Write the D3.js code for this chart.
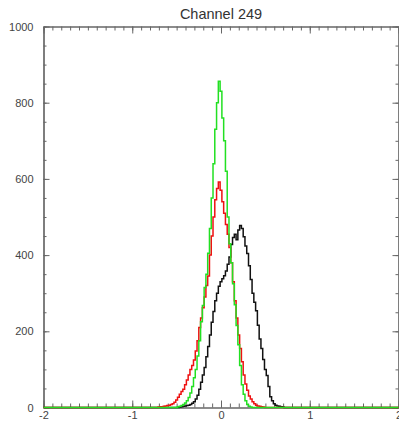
<!DOCTYPE html>
<html>
<head>
<meta charset="utf-8">
<script src="https://cdn.jsdelivr.net/npm/d3@7"></script>
<style>
  html, body { margin: 0; padding: 0; background: #fff; }
  svg { display: block; font-family: "Liberation Sans", Arial, sans-serif; }
</style>
</head>
<body>
<svg id="chart" width="399" height="426"></svg>
<script>
// Histogram of channel 249 residuals: three distributions on a common grid.
const title = "Channel 249";

// Bin centres (bin width 0.02); outside this span every count is zero.
const binCenters = [
  -0.80,-0.78,-0.76,-0.74,-0.72,-0.70,-0.68,-0.66,-0.64,-0.62,
  -0.60,-0.58,-0.56,-0.54,-0.52,-0.50,-0.48,-0.46,-0.44,-0.42,
  -0.40,-0.38,-0.36,-0.34,-0.32,-0.30,-0.28,-0.26,-0.24,-0.22,
  -0.20,-0.18,-0.16,-0.14,-0.12,-0.10,-0.08,-0.06,-0.04,-0.02,
   0.00, 0.02, 0.04, 0.06, 0.08, 0.10, 0.12, 0.14, 0.16, 0.18,
   0.20, 0.22, 0.24, 0.26, 0.28, 0.30, 0.32, 0.34, 0.36, 0.38,
   0.40, 0.42, 0.44, 0.46, 0.48, 0.50, 0.52, 0.54, 0.56, 0.58,
   0.60, 0.62, 0.64, 0.66, 0.68, 0.70, 0.72, 0.74, 0.76, 0.78,
   0.80
];

const blackCounts = [
    0,  0,  0,  0,  0,  0,  0,  0,  0,  0,
    0,  0,  0,  0,  0,  0,  0,  1,  2,  3,
    4,  5,  6,  8, 11, 15, 22, 32, 48, 66,
   85,105,133,160,190,224,252,280,300,318,
  330,338,346,358,376,395,428,446,455,440,
  466,478,470,448,424,404,372,336,300,276,
  254,216,180,155,126,100, 84, 55, 28, 18,
   10,  6,  4,  3,  2,  1,  0,  0,  0,  0,
    0
];

const redCounts = [
    0,  0,  0,  0,  0,  1,  2,  2,  3,  4,
    5,  6,  8, 10, 14, 20, 27, 35, 42, 48,
   60, 72, 85,100,110,125,148,175,210,235,
  262,290,320,345,400,450,500,545,575,592,
  570,540,510,480,455,420,380,330,280,235,
  190,155,120, 85, 62, 45, 30, 22, 15, 10,
    6,  4,  3,  2,  1,  0,  0,  0,  0,  0,
    0,  0,  0,  0,  0,  0,  0,  0,  0,  0,
    0
];

const greenCounts = [
    0,  0,  0,  0,  0,  0,  0,  0,  0,  0,
    0,  0,  0,  0,  0,  0,  2,  3,  5,  8,
   12, 18, 26, 38, 55, 78,100,135,175,225,
  268,315,350,405,470,550,640,730,800,856,
  830,760,700,620,500,430,380,325,270,215,
  165,110, 60, 35, 18,  8,  3,  1,  0,  0,
    0,  0,  0,  0,  0,  0,  0,  0,  0,  0,
    0,  0,  0,  0,  0,  0,  0,  0,  0,  0,
    0
];

const xTicks = [-2, -1, 0, 1, 2];
const xTickLabels = ["-2", "-1", "0", "1", "2"];
const yTicks = [0, 200, 400, 600, 800, 1000];
const yTickLabels = ["0", "200", "400", "600", "800", "1000"];

const series = [
  { name: "black", counts: blackCounts, color: "#111111" },
  { name: "red",   counts: redCounts,   color: "#ee1111" },
  { name: "green", counts: greenCounts, color: "#22e022" }
];

const svg = d3.select("#chart");
const x = d3.scaleLinear().domain([-2, 2]).range([43.5, 398.5]);
const y = d3.scaleLinear().domain([0, 1000]).range([407.5, 26.5]);

const axisColor = "#666";
const labelColor = "#444";

// Title
svg.append("text")
  .attr("x", (x.range()[0] + x.range()[1]) / 2)
  .attr("y", 19)
  .attr("text-anchor", "middle")
  .attr("font-size", 14.5)
  .attr("fill", "#333")
  .text(title);

// Frame with inward-pointing ticks on all four sides
const minorX = d3.range(-20, 21).map(v => v / 10);
const minorY = d3.range(0, 1001, 50);

function styleAxis(g) {
  g.selectAll("path.domain").attr("stroke", axisColor).attr("stroke-width", 1.2);
  g.selectAll(".tick line").attr("stroke", axisColor);
  g.selectAll(".tick text").attr("fill", labelColor).attr("font-size", 11)
    .attr("font-family", "Liberation Sans, Arial, sans-serif");
}

const axes = svg.append("g");
// bottom
axes.append("g").attr("transform", `translate(0,${y(0)})`)
  .call(d3.axisBottom(x).tickValues(minorX).tickSize(-4).tickSizeOuter(0).tickFormat(""))
  .call(styleAxis);
axes.append("g").attr("transform", `translate(0,${y(0)})`)
  .call(d3.axisBottom(x).tickValues(xTicks).tickSize(-7).tickSizeOuter(0)
    .tickPadding(4).tickFormat((d, i) => xTickLabels[i]))
  .call(styleAxis);
// top
axes.append("g").attr("transform", `translate(0,${y(1000)})`)
  .call(d3.axisTop(x).tickValues(minorX).tickSize(-4).tickSizeOuter(0).tickFormat(""))
  .call(styleAxis);
axes.append("g").attr("transform", `translate(0,${y(1000)})`)
  .call(d3.axisTop(x).tickValues(xTicks).tickSize(-7).tickSizeOuter(0).tickFormat(""))
  .call(styleAxis);
// left
axes.append("g").attr("transform", `translate(${x(-2)},0)`)
  .call(d3.axisLeft(y).tickValues(minorY).tickSize(-3).tickSizeOuter(0).tickFormat(""))
  .call(styleAxis);
axes.append("g").attr("transform", `translate(${x(-2)},0)`)
  .call(d3.axisLeft(y).tickValues(yTicks).tickSize(-6).tickSizeOuter(0)
    .tickPadding(10).tickFormat((d, i) => yTickLabels[i]))
  .call(styleAxis);
// right
axes.append("g").attr("transform", `translate(${x(2)},0)`)
  .call(d3.axisRight(y).tickValues(minorY).tickSize(-3).tickSizeOuter(0).tickFormat(""))
  .call(styleAxis);
axes.append("g").attr("transform", `translate(${x(2)},0)`)
  .call(d3.axisRight(y).tickValues(yTicks).tickSize(-6).tickSizeOuter(0).tickFormat(""))
  .call(styleAxis);

// Histogram step lines, drawn over the frame (green last, on top)
const step = d3.line()
  .x(d => x(d[0]))
  .y(d => y(d[1]))
  .curve(d3.curveStep);

const plot = svg.append("g");
series.forEach(s => {
  const pts = [[x.domain()[0], 0]]
    .concat(binCenters.map((c, i) => [c, s.counts[i]]))
    .concat([[x.domain()[1], 0]]);
  plot.append("path")
    .datum(pts)
    .attr("fill", "none")
    .attr("stroke", s.color)
    .attr("stroke-width", 1.5)
    .attr("stroke-linejoin", "miter")
    .attr("d", step);
});
</script>
</body>
</html>
